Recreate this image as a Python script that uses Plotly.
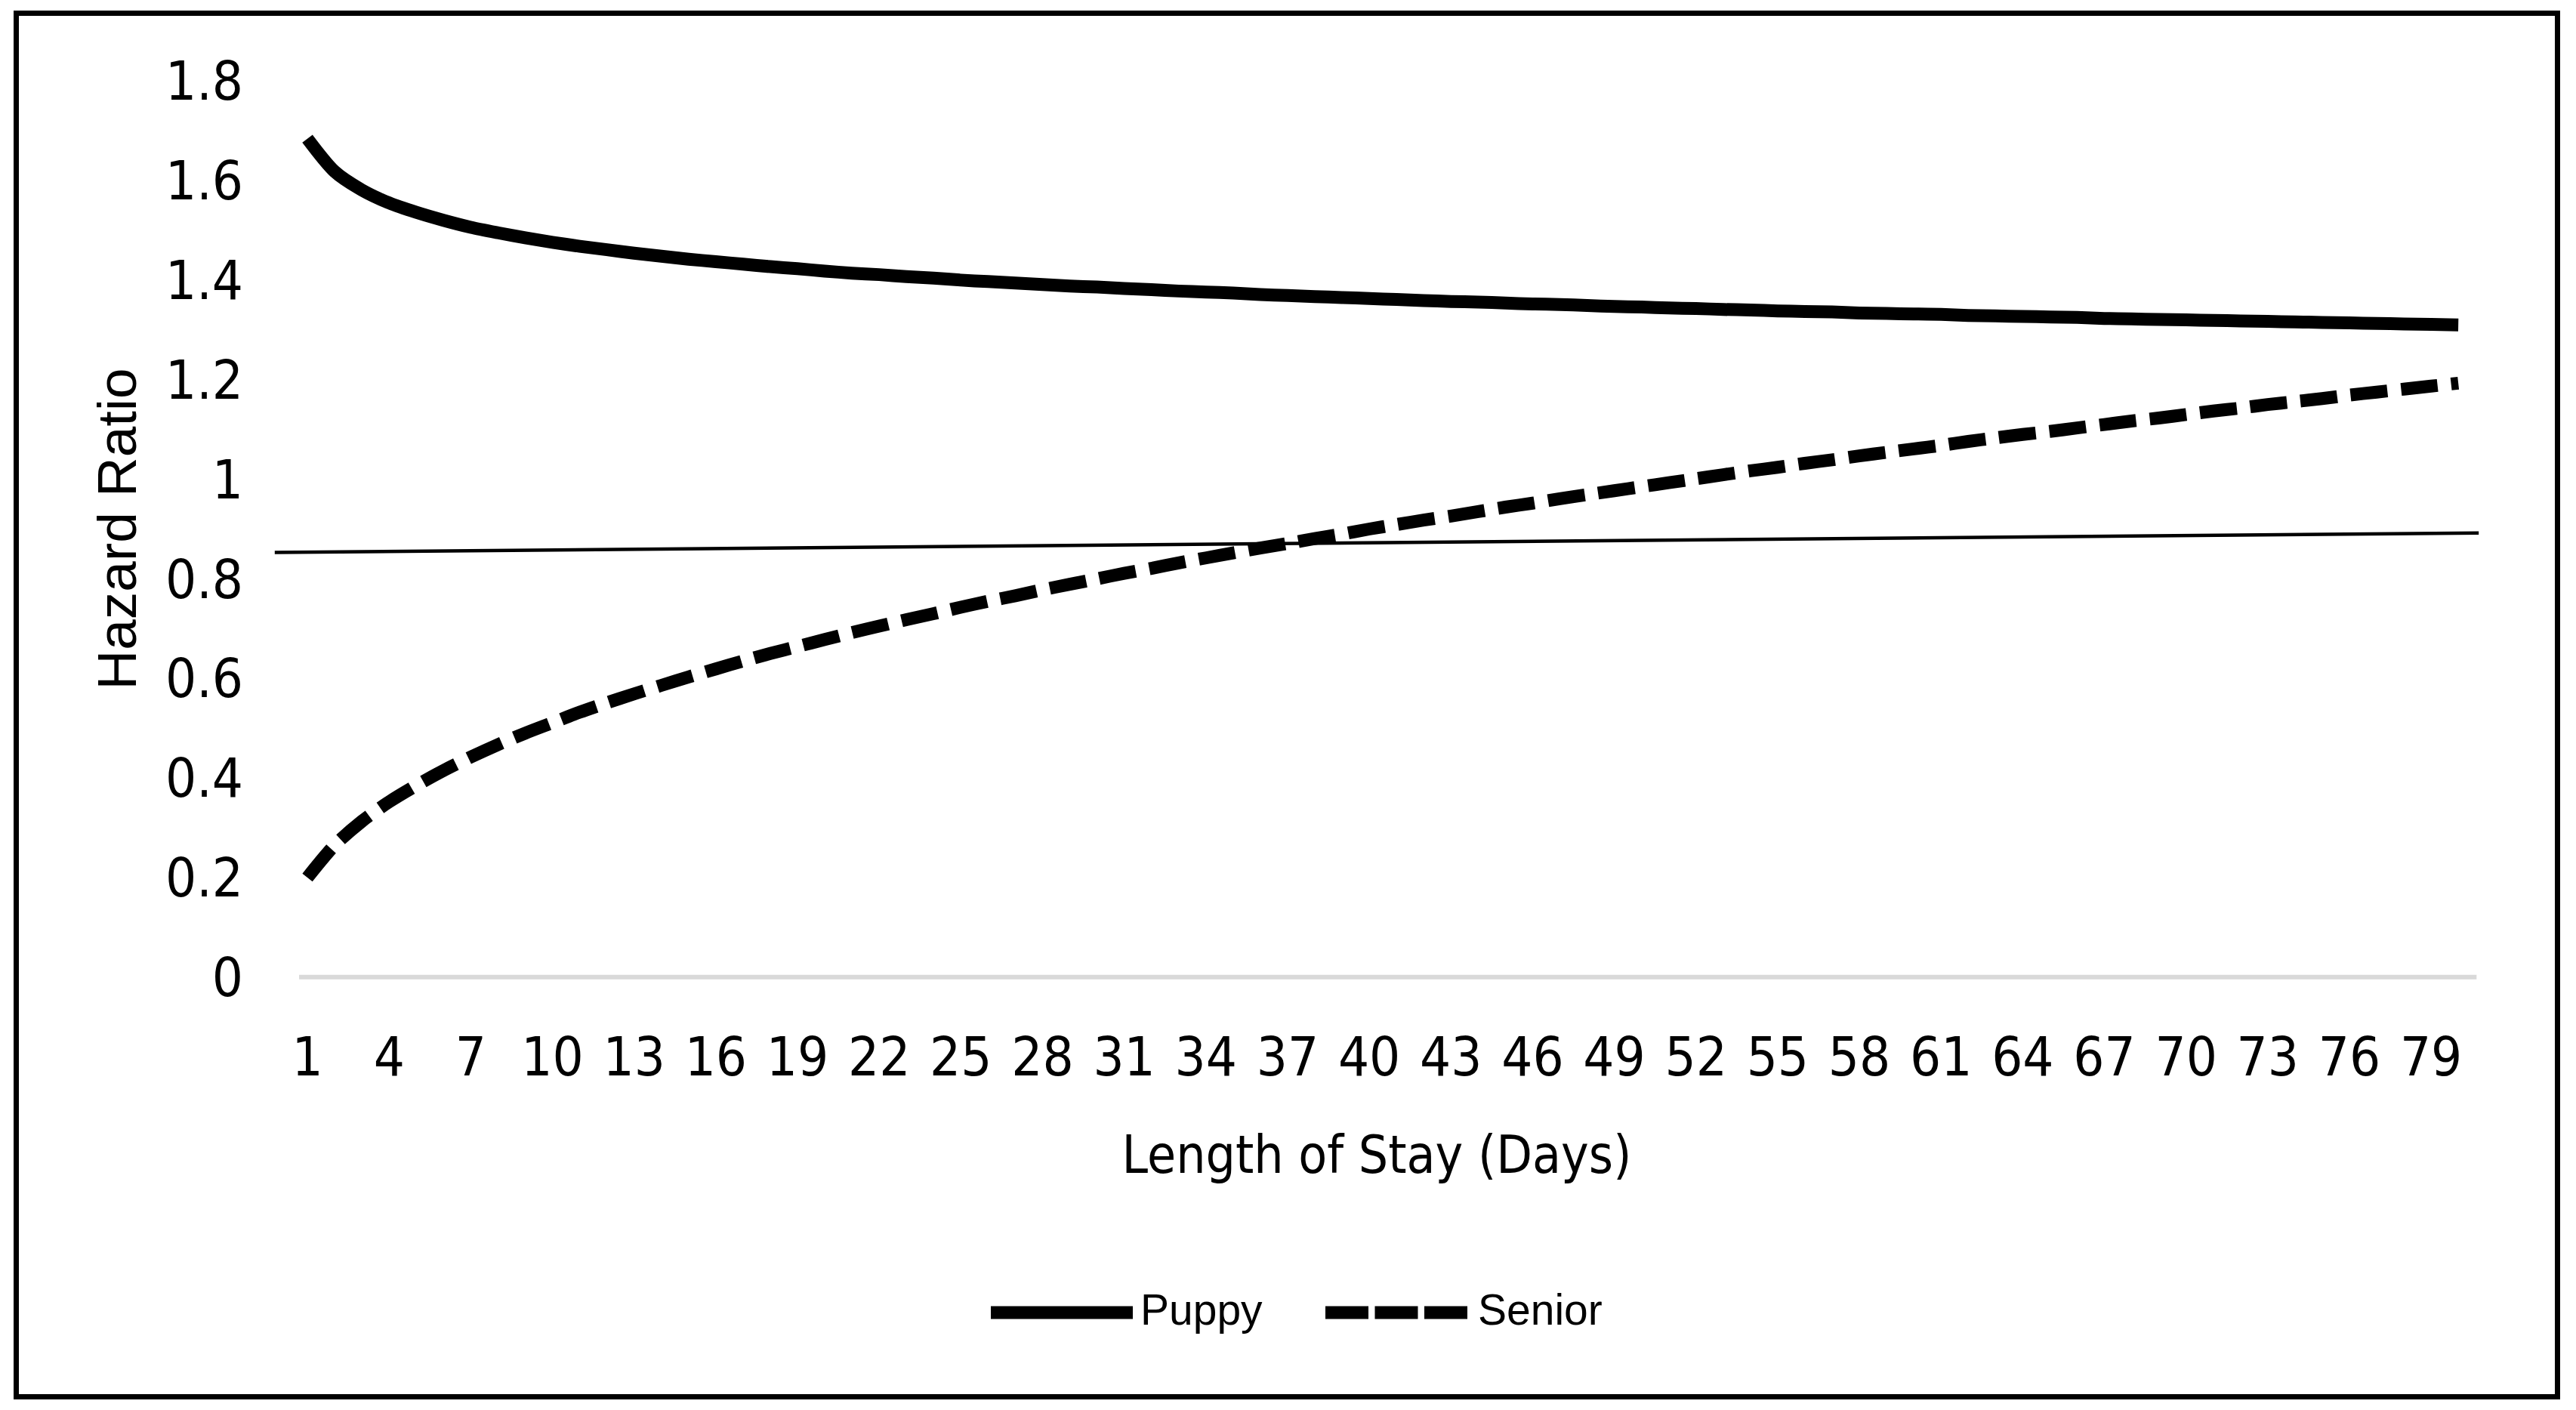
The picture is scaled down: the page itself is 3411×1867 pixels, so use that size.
import plotly.graph_objects as go

# ---------------- data ----------------
days = list(range(1, 81))

puppy = [1.684, 1.618, 1.581, 1.555, 1.536, 1.520, 1.506, 1.495, 1.485, 1.476,
         1.468, 1.461, 1.454, 1.448, 1.442, 1.437, 1.432, 1.427, 1.423, 1.418,
         1.414, 1.411, 1.407, 1.404, 1.400, 1.397, 1.394, 1.391, 1.388, 1.386,
         1.383, 1.381, 1.378, 1.376, 1.374, 1.371, 1.369, 1.367, 1.365, 1.363,
         1.361, 1.359, 1.357, 1.356, 1.354, 1.352, 1.351, 1.349, 1.347, 1.346,
         1.344, 1.343, 1.341, 1.340, 1.338, 1.337, 1.336, 1.334, 1.333, 1.332,
         1.331, 1.329, 1.328, 1.327, 1.326, 1.325, 1.323, 1.322, 1.321, 1.320,
         1.319, 1.318, 1.317, 1.316, 1.315, 1.314, 1.313, 1.312, 1.311, 1.310]

senior = [0.200, 0.265, 0.313, 0.352, 0.385, 0.415, 0.442, 0.467, 0.490, 0.511,
          0.532, 0.551, 0.569, 0.586, 0.603, 0.619, 0.635, 0.650, 0.664, 0.678,
          0.692, 0.705, 0.718, 0.730, 0.743, 0.755, 0.766, 0.778, 0.789, 0.800,
          0.811, 0.821, 0.832, 0.842, 0.852, 0.862, 0.871, 0.881, 0.890, 0.900,
          0.909, 0.918, 0.926, 0.935, 0.944, 0.952, 0.961, 0.969, 0.977, 0.985,
          0.993, 1.001, 1.009, 1.017, 1.024, 1.032, 1.039, 1.047, 1.054, 1.061,
          1.068, 1.076, 1.083, 1.090, 1.096, 1.103, 1.110, 1.117, 1.123, 1.130,
          1.137, 1.143, 1.150, 1.156, 1.162, 1.169, 1.175, 1.181, 1.187, 1.193]

# thin reference line drawn across the chart
ref_days = [-0.2, 80.75]
ref_hr = [0.853, 0.892]

x_tick_vals = list(range(1, 81, 3))
x_tick_text = [str(v) for v in x_tick_vals]
y_tick_vals = [0, 0.2, 0.4, 0.6, 0.8, 1.0, 1.2, 1.4, 1.6, 1.8]
y_tick_text = ["0", "0.2", "0.4", "0.6", "0.8", "1", "1.2", "1.4", "1.6", "1.8"]

series_names = ["Puppy", "Senior"]

# ---------------- layout geometry ----------------
# the page body has an 8px margin, so the figure is 16px smaller than the window
OFF = 8
W, H = 3411 - 2 * OFF, 1867 - 2 * OFF
L, R, T, B = 354, 119, 86, 552


def px(x):
    """screen pixel x -> paper x"""
    return (x - OFF - L) / (W - L - R)


def py(y):
    """screen pixel y -> paper y"""
    return (H - B - (y - OFF)) / (H - T - B)


NARROW = "DejaVu Sans Condensed, Liberation Sans Narrow, sans-serif"
REG = "Liberation Sans, Arial, sans-serif"

fig = go.Figure()

fig.add_trace(go.Scatter(x=days, y=puppy, mode="lines", name=series_names[0],
                         line=dict(color="black", width=17, shape="spline", smoothing=0.8),
                         showlegend=False))
fig.add_trace(go.Scatter(x=days, y=senior, mode="lines", name=series_names[1],
                         line=dict(color="black", width=17, dash="49px,18px",
                                   shape="spline", smoothing=0.8),
                         showlegend=False))
fig.add_trace(go.Scatter(x=ref_days, y=ref_hr, mode="lines", name="reference",
                         line=dict(color="black", width=4.5), showlegend=False,
                         hoverinfo="skip"))

shapes = [
    # baseline at 0
    dict(type="line", xref="x", yref="y", x0=0.695, x1=80.67, y0=0, y1=0,
         line=dict(color="#d9d9d9", width=6), layer="below"),
    # outer border
    dict(type="rect", xref="paper", yref="paper",
         x0=px(21.5), x1=px(3386.5), y0=py(1849.5), y1=py(17.5),
         line=dict(color="black", width=7)),
    # legend samples
    dict(type="line", xref="paper", yref="paper",
         x0=px(1312), x1=px(1500), y0=py(1738), y1=py(1738),
         line=dict(color="black", width=17)),
    dict(type="line", xref="paper", yref="paper",
         x0=px(1755), x1=px(1943), y0=py(1738), y1=py(1738),
         line=dict(color="black", width=17, dash="57px,8.5px")),
]

annotations = [
    dict(text=series_names[0], xref="paper", yref="paper", x=px(1508), y=py(1734),
         xanchor="left", yanchor="middle", showarrow=False,
         font=dict(family=REG, size=57, color="black")),
    dict(text=series_names[1], xref="paper", yref="paper", x=px(1955), y=py(1734),
         xanchor="left", yanchor="middle", showarrow=False,
         font=dict(family=REG, size=57, color="black")),
]

fig.update_layout(
    width=W, height=H,
    margin=dict(l=L, r=R, t=T, b=B, pad=0, autoexpand=False),
    paper_bgcolor="white", plot_bgcolor="white",
    shapes=shapes, annotations=annotations,
    showlegend=False,
    xaxis=dict(
        range=[-0.25, 80.8], tickmode="array", tickvals=x_tick_vals, ticktext=x_tick_text,
        showgrid=False, zeroline=False, showline=False, ticks="", automargin=False,
        tickfont=dict(family=NARROW, size=72, color="black"),
        ticklabelstandoff=44,
        title=dict(text="Length of Stay (Days)", standoff=64,
                   font=dict(family=NARROW, size=69, color="black")),
    ),
    yaxis=dict(
        range=[-0.02, 1.82], tickmode="array", tickvals=y_tick_vals, ticktext=y_tick_text,
        showgrid=False, zeroline=False, showline=False, ticks="", automargin=False,
        tickfont=dict(family=NARROW, size=72, color="black"),
        ticklabelstandoff=39,
        title=dict(text="Hazard Ratio", standoff=14,
                   font=dict(family=REG, size=73, color="black")),
    ),
)

fig.write_html("out.html", config={"displayModeBar": False})
